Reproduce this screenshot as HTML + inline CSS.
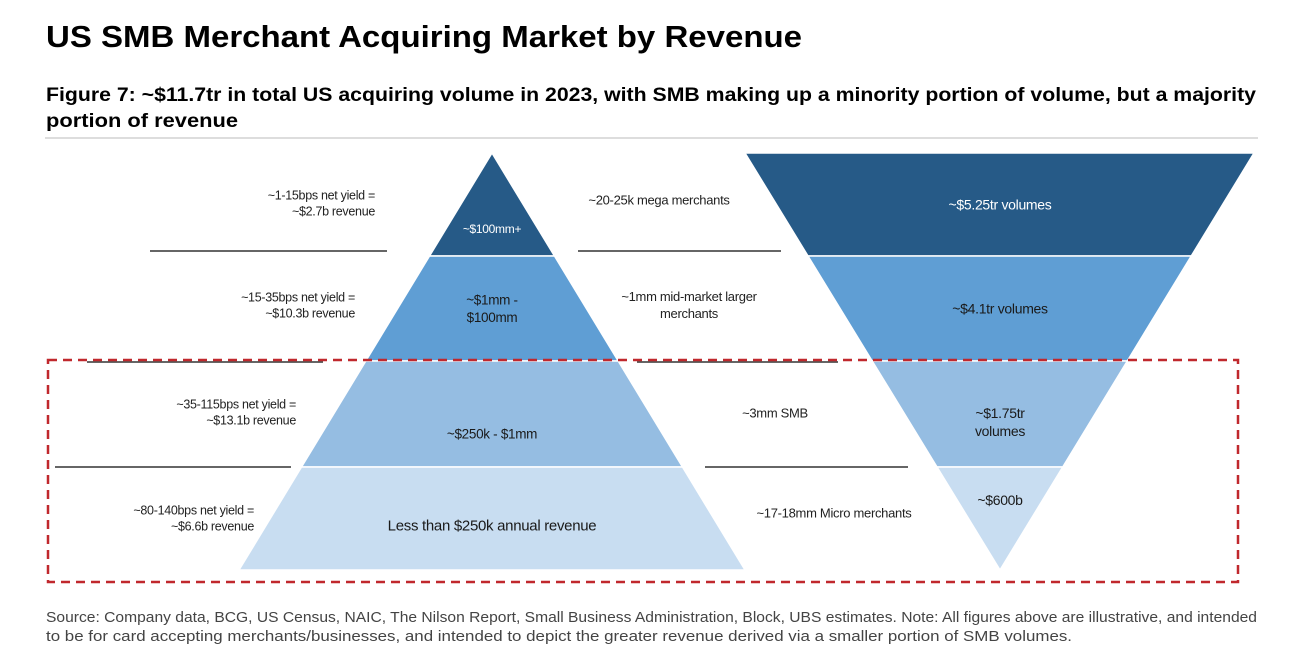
<!DOCTYPE html>
<html><head><meta charset="utf-8"><style>
html,body{margin:0;padding:0;background:#fff;}
svg{display:block;font-family:"Liberation Sans",sans-serif;}
</style></head><body>
<svg id="chart" width="1292" height="659" viewBox="0 0 1292 659" xmlns="http://www.w3.org/2000/svg">
<text x="46" y="47" font-size="31" font-weight="bold" fill="#000" textLength="756" lengthAdjust="spacingAndGlyphs">US SMB Merchant Acquiring Market by Revenue</text>
<text x="46" y="101" font-size="19" font-weight="bold" fill="#000" textLength="1210" lengthAdjust="spacingAndGlyphs">Figure 7: ~$11.7tr in total US acquiring volume in 2023, with SMB making up a minority portion of volume, but a majority</text>
<text x="46" y="127" font-size="19" font-weight="bold" fill="#000" textLength="192" lengthAdjust="spacingAndGlyphs">portion of revenue</text>
<line x1="45" y1="138" x2="1258" y2="138" stroke="#ddd" stroke-width="2"/>
<g id="plot"></g>
<text x="46" y="622" font-size="14.5" fill="#444" textLength="1211" lengthAdjust="spacingAndGlyphs">Source: Company data, BCG, US Census, NAIC, The Nilson Report, Small Business Administration, Block, UBS estimates. Note: All figures above are illustrative, and intended</text>
<text x="46" y="641" font-size="14.5" fill="#444" textLength="1026" lengthAdjust="spacingAndGlyphs">to be for card accepting merchants/businesses, and intended to depict the greater revenue derived via a smaller portion of SMB volumes.</text>
</svg>
<script>
const tiers = ["mega","mid","smb","micro"];
const revenueBands = [["~$100mm+"],["~$1mm -","$100mm"],["~$250k - $1mm"],["Less than $250k  annual revenue"]];
const yieldLabels = [["~1-15bps net yield =","~$2.7b revenue"],["~15-35bps net yield =","~$10.3b revenue"],["~35-115bps net yield =","~$13.1b revenue"],["~80-140bps net yield =","~$6.6b revenue"]];
const merchantLabels = [["~20-25k mega merchants"],["~1mm mid-market larger","merchants"],["~3mm SMB"],["~17-18mm Micro merchants"]];
const volumeLabels = [["~$5.25tr volumes"],["~$4.1tr volumes"],["~$1.75tr","volumes"],["~$600b"]];
const colors = ["#265a87","#5f9ed4","#95bde2","#c8ddf1"];
const textColors = ["#fff","#1a1a1a","#1a1a1a","#1a1a1a"];

const NS="http://www.w3.org/2000/svg";
const g=document.getElementById('plot');
function mk(tag,attrs){const e=document.createElementNS(NS,tag);for(const k in attrs)e.setAttribute(k,attrs[k]);g.appendChild(e);return e;}
const topY=153,botY=570, bandY=[153,256,361,467,570];
const pApex=492, pHalf=253;
function pyrX(y,side){return pApex+side*pHalf*(y-topY)/(botY-topY);}
const fTipX=1000, fLeft=745, fRight=1254;
function funX(y,side){const t=(y-topY)/(botY-topY);return side<0?fLeft+(fTipX-fLeft)*t:fRight+(fTipX-fRight)*t;}
function txt(lines,x,yc,anchor,fill,size,name){
  const lh=size*1.3; const y0=yc-(lines.length-1)*lh/2+size*0.35;
  lines.forEach((s,i)=>{const t=mk('text',{x:x,y:y0+i*lh,'text-anchor':anchor,'font-size':size,fill:fill,'letter-spacing':'-0.3'});
    
    
    t.textContent=s;});
}
const yieldX=[375,355,296,254];
const merchX=[659,689,775,834];
const sepLeft=[[150,387],[87,323],[55,291]];
const sepRight=[[578,781],[637,838],[705,908]];
tiers.forEach((tier,i)=>{
  const y1=bandY[i],y2=bandY[i+1];
  const p=mk('polygon',{points:`${pyrX(y1,-1)},${y1} ${pyrX(y1,1)},${y1} ${pyrX(y2,1)},${y2} ${pyrX(y2,-1)},${y2}`,fill:colors[i],stroke:'#fff','stroke-width':1.5});
  
  
  const f=mk('polygon',{points:`${funX(y1,-1)},${y1} ${funX(y1,1)},${y1} ${funX(y2,1)},${y2} ${funX(y2,-1)},${y2}`,fill:colors[i],stroke:'#fff','stroke-width':1.5});
  
  
  const yc=(y1+y2)/2;
  const pyc = i===0 ? 229 : (i===3 ? 525 : yc+(i===2?20:0));
  txt(revenueBands[i],pApex,pyc,'middle',textColors[i],i===3?15:(i===0?12:13.5),'revenue-band-label-'+tier);
  const fyc = i===3 ? 500 : yc+(i===2?8:0);
  txt(volumeLabels[i],fTipX,fyc,'middle',textColors[i],14,'volume-label-'+tier);
  txt(yieldLabels[i],yieldX[i],[203,305,412,518][i],'end','#222',12.5,'yield-label-'+tier);
  txt(merchantLabels[i],merchX[i],[200,305,413,513][i],'middle','#222',13,'merchant-label-'+tier);
  if(i<3){
    const a=mk('line',{x1:sepLeft[i][0],x2:sepLeft[i][1],y1:[251,362,467][i],y2:[251,362,467][i],stroke:'#333','stroke-width':1.5});
    
    
    const b=mk('line',{x1:sepRight[i][0],x2:sepRight[i][1],y1:[251,362,467][i],y2:[251,362,467][i],stroke:'#333','stroke-width':1.5});
    
    
  }
});
const r=mk('rect',{x:48,y:360,width:1190,height:222,fill:'none',stroke:'#c0282d','stroke-width':2.5,'stroke-dasharray':'9 6'});


</script>
</body></html>
